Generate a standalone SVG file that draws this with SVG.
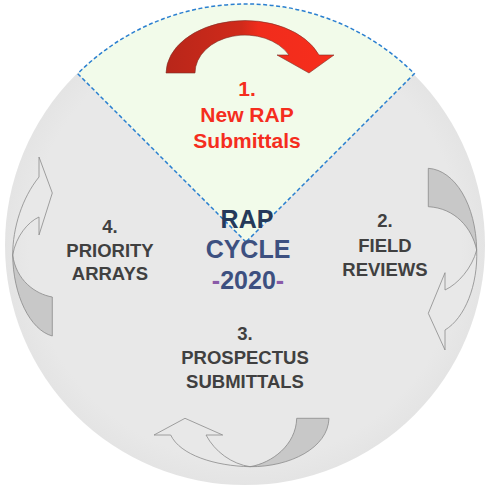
<svg xmlns="http://www.w3.org/2000/svg" width="485" height="487" viewBox="0 0 485 487">
<defs>
<linearGradient id="redGrad" x1="0" y1="0" x2="1" y2="0">
<stop offset="0" stop-color="#b8261a"/>
<stop offset="0.45" stop-color="#d02a1a"/>
<stop offset="0.55" stop-color="#f02c1c"/>
<stop offset="1" stop-color="#f72e1c"/>
</linearGradient>
<radialGradient id="bgGrad" cx="0.5" cy="0.5" r="0.5">
<stop offset="0.9" stop-color="#e8e8e8"/>
<stop offset="1" stop-color="#e4e4e4"/>
</radialGradient>
</defs>
<style>
.lbl{font-family:"Liberation Sans",Arial,sans-serif;font-weight:bold;text-anchor:middle}
.gray{fill:#404040;font-size:18.5px}
.red{fill:#f52d1e;font-size:21px}
.ctr{font-size:25px}
.front{fill:#e8e8e8;stroke:#8a8a8a;stroke-width:0.8}
.back{fill:#c8c8c8;stroke:#8a8a8a;stroke-width:0.8}
</style>
<rect width="485" height="487" fill="#ffffff"/>
<circle id="cycle-background" cx="245" cy="245" r="240" fill="url(#bgGrad)"/>
<g id="node-1">
<path d="M246,242 L77.7,73.7 A238,238 0 0 1 414.3,73.7 Z" fill="#f2fbea" stroke="#2a7fd0" stroke-width="1.5" stroke-dasharray="4 2.5"/>
<text class="lbl red" x="247" y="96">1.</text>
<text class="lbl red" x="247" y="122">New RAP</text>
<text class="lbl red" x="247" y="148">Submittals</text>
</g>
<g id="node-center">
<text class="lbl ctr" x="247" y="228" fill="#253a5a">RAP</text>
<text class="lbl ctr" x="248" y="258" fill="#3d5080">CYCLE</text>
<text class="lbl ctr" x="248" y="289" fill="#3d5080"><tspan fill="#8a5aa8">-</tspan>2020<tspan fill="#8a5aa8">-</tspan></text>
</g>
<g id="node-2">
<text class="lbl gray" x="385" y="227">2.</text>
<text class="lbl gray" x="385" y="251.5">FIELD</text>
<text class="lbl gray" x="385" y="276">REVIEWS</text>
</g>
<g id="node-3">
<text class="lbl gray" x="245" y="340">3.</text>
<text class="lbl gray" x="245" y="363.5">PROSPECTUS</text>
<text class="lbl gray" x="245" y="388">SUBMITTALS</text>
</g>
<g id="node-4">
<text class="lbl gray" x="110" y="233">4.</text>
<text class="lbl gray" x="110" y="256.5">PRIORITY</text>
<text class="lbl gray" x="110" y="279.5">ARRAYS</text>
</g>
<g id="connectors">
<path id="arrow-1-2" d="M166,73 A79,53 0 0 1 319,55 L334,55 L309,73 L277,55 L289,55 A50,38 0 0 0 195,73 Z" fill="url(#redGrad)" stroke="#7a3028" stroke-width="0.6"/>
<g id="arrow-2-3">
<path class="back" d="M428.3,168.3 C455,170 476,205 476.7,250 C472,228 455,208 428.3,206.7 Z"/>
<path class="front" d="M476.7,250 C478,285 465,318 445,330 L445,350 L428.3,313.3 L445,272.7 L445,290 C458,284 472,268 476.7,250 Z"/>
</g>
<g id="arrow-3-4">
<path class="back" d="M329,418.3 C328,448 290,467 250,466.7 C272,463 296,445 296.7,418.3 Z"/>
<path class="front" d="M250,466.7 C215,466 180,455 170.7,435 L154,435 L185,418.3 L222.7,435 L206,435 C215,452 232,464 250,466.7 Z"/>
</g>
<g id="arrow-4-1">
<path class="back" d="M12.7,255 C13,295 30,330 52.3,336 L52.3,297 C35,294 16,280 12.7,255 Z"/>
<path class="front" d="M12.7,255 C12.7,228 22,198 39,177 L39,157 L52.3,193 L39,235 L39,217 C28,222 16,236 12.7,255 Z"/>
</g>
</g>
</svg>
